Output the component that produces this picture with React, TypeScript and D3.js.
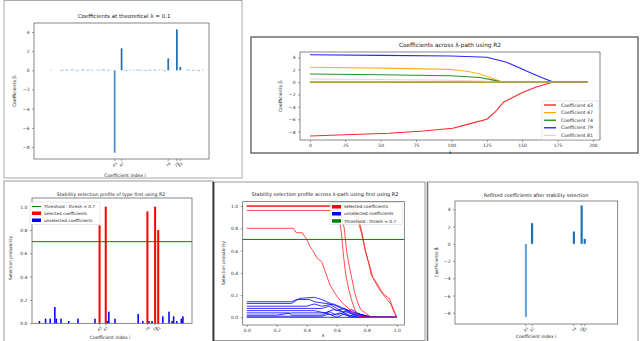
import React, { useEffect, useRef } from "react";
import * as d3 from "d3";

// selected coefficients (shared by the bar panels)
const selIdx = [43, 47, 74, 79, 81];
const selLabels = ["43", "47", "74", "79", "81"];

// panel 1: coefficients at theoretical lambda
const coefTheory = [-8.6, 2.3, 1.25, 4.27, 0.35];
const smallIdx = [6, 12, 13, 15, 16, 18, 19, 21, 22, 24, 25, 27, 28, 30, 33, 34, 36, 37, 39, 40, 49, 50, 52, 54, 56, 57, 58, 60, 61, 63, 64, 66, 67, 69, 71, 72, 85, 86, 88, 89, 91, 92, 94];
const smallVal = [0.06, -0.08, 0.07, 0.09, -0.06, 0.08, 0.07, -0.09, 0.06, 0.08, 0.09, -0.07, 0.06, 0.08, 0.07, -0.06, 0.09, 0.08, -0.07, 0.06, 0.08, -0.09, 0.07, 0.06, 0.08, -0.07, 0.09, 0.06, -0.08, 0.07, 0.06, 0.09, -0.06, 0.08, 0.07, -0.08, 0.06, 0.09, -0.07, 0.08, 0.06, -0.09, 0.07];

// panel 2: coefficients along the lambda path
const pathNames = ["Coefficient 43", "Coefficient 47", "Coefficient 74", "Coefficient 79", "Coefficient 81"];
const path43 = [[0, -8.7], [25, -8.5], [56, -8.25], [80, -7.9], [101, -7.45], [110, -6.9], [125, -6.0], [131, -4.8], [137, -3.2], [144, -2.4], [151, -1.6], [160, -0.8], [172, 0], [196, 0]];
const path47 = [[0, 2.38], [50, 2.25], [99, 2.05], [112, 1.7], [120, 1.3], [128, 0.7], [136, 0], [196, 0]];
const path74 = [[0, 1.3], [50, 1.18], [99, 1.02], [112, 0.85], [120, 0.75], [128, 0.4], [136, 0], [196, 0]];
const path79 = [[0, 4.4], [50, 4.3], [100, 4.2], [125, 4.0], [139, 3.2], [148, 2.3], [157, 1.4], [165, 0.6], [172, 0], [196, 0]];
const path81 = [[0, 0.5], [50, 0.42], [100, 0.3], [120, 0.15], [134, 0], [196, 0]];
const pathOther = [[0, 0], [196, 0]];
const pathTicks = [0, 25, 50, 75, 100, 125, 150, 175, 200];

// panel 3: stability profile at one lambda
const selProb = [0.84, 1.0, 0.96, 1.0, 0.8];
const unselIdx = [4, 8, 11, 14, 15, 18, 23, 29, 40, 48, 49, 53, 68, 71, 75, 77, 84, 88, 90, 91, 93, 96, 97];
const unselProb = [0.02, 0.04, 0.04, 0.14, 0.04, 0.04, 0.02, 0.04, 0.04, 0.02, 0.1, 0.04, 0.08, 0.02, 0.02, 0.02, 0.06, 0.1, 0.02, 0.06, 0.02, 0.04, 0.06];
const thresh = 0.7;

// panel 4: stability profile across lambda path
const redPaths = [
  [[0, 1.0], [0.6, 1.0], [0.625, 0.82], [0.635, 0.7], [0.645, 0.55], [0.66, 0.38], [0.68, 0.25], [0.7, 0.15], [0.72, 0.07], [0.74, 0.02], [0.76, 0], [1.0, 0]],
  [[0, 0.96], [0.62, 0.96], [0.65, 0.8], [0.665, 0.6], [0.68, 0.48], [0.7, 0.35], [0.72, 0.22], [0.74, 0.13], [0.76, 0.07], [0.8, 0.03], [0.83, 0], [1.0, 0]],
  [[0, 0.8], [0.31, 0.8], [0.33, 0.76], [0.37, 0.76], [0.4, 0.7], [0.42, 0.64], [0.44, 0.6], [0.47, 0.53], [0.5, 0.5], [0.52, 0.42], [0.555, 0.29], [0.6, 0.19], [0.64, 0.125], [0.69, 0.065], [0.73, 0.02], [0.8, 0], [1.0, 0]],
  [[0, 1.0], [0.72, 1.0], [0.75, 0.86], [0.77, 0.75], [0.79, 0.6], [0.81, 0.5], [0.83, 0.38], [0.855, 0.32], [0.88, 0.26], [0.9, 0.22], [0.93, 0.17], [0.96, 0.12], [0.98, 0.05], [1.0, 0]],
  [[0, 1.0], [0.7, 1.0], [0.74, 0.88], [0.76, 0.78], [0.78, 0.66], [0.8, 0.55], [0.82, 0.46], [0.84, 0.36], [0.87, 0.3], [0.9, 0.23], [0.92, 0.2], [0.95, 0.17], [0.97, 0.1], [1.0, 0]],
];
const bluePaths = [
  [[0, 0.14], [0.3, 0.14], [0.33, 0.16], [0.42, 0.16], [0.45, 0.14], [0.55, 0.12], [0.6, 0.08], [0.65, 0.04], [0.7, 0.01], [0.75, 0], [1.0, 0]],
  [[0, 0.125], [0.3, 0.125], [0.35, 0.17], [0.45, 0.18], [0.5, 0.16], [0.55, 0.13], [0.6, 0.1], [0.65, 0.07], [0.72, 0.02], [0.78, 0], [1.0, 0]],
  [[0, 0.1], [0.4, 0.1], [0.45, 0.12], [0.5, 0.1], [0.58, 0.12], [0.63, 0.09], [0.68, 0.06], [0.75, 0.03], [0.82, 0], [1.0, 0]],
  [[0, 0.08], [0.35, 0.08], [0.5, 0.08], [0.55, 0.1], [0.6, 0.06], [0.65, 0.08], [0.7, 0.04], [0.78, 0.02], [0.85, 0], [1.0, 0]],
  [[0, 0.06], [0.45, 0.06], [0.52, 0.04], [0.58, 0.07], [0.64, 0.05], [0.7, 0.07], [0.75, 0.03], [0.8, 0.01], [0.88, 0], [1.0, 0]],
  [[0, 0.04], [0.28, 0.04], [0.3, 0.02], [0.5, 0.02], [0.55, 0.05], [0.6, 0.02], [0.66, 0.05], [0.72, 0.02], [0.8, 0], [1.0, 0]],
  [[0, 0.02], [0.2, 0.02], [0.3, 0.04], [0.52, 0.04], [0.57, 0.02], [0.62, 0.04], [0.68, 0.01], [0.74, 0.03], [0.8, 0], [1.0, 0]],
  [[0, 0.01], [0.5, 0.01], [0.55, 0.03], [0.6, 0], [0.65, 0.03], [0.7, 0], [0.76, 0.02], [0.82, 0], [1.0, 0]],
  [[0, 0], [1.0, 0]],
];
const probTicks = [0, 0.2, 0.4, 0.6, 0.8, 1.0];

// panel 5: refitted coefficients
const coefRefit = [-8.5, 2.4, 1.43, 4.45, 0.58];

const coefTicks = [-8, -6, -4, -2, 0, 2, 4];

const FONT = "DejaVu Sans, sans-serif";
const pathColors = ["#ff0000", "#ffa500", "#008000", "#0000ff", "#ffc0cb"];

function styleAxis(g: any, fs = 4.5) {
  g.select(".domain").remove();
  g.selectAll(".tick line").attr("stroke", "#444").attr("stroke-width", 0.5);
  g.selectAll(".tick text").attr("fill", "#333").style("font-size", fs + "px").style("font-family", FONT);
}

function spines(svg: any, x: any, y: any) {
  const [x0, x1] = x.range();
  const [y0, y1] = y.range();
  svg.append("rect")
    .attr("x", x0).attr("y", Math.min(y0, y1))
    .attr("width", x1 - x0).attr("height", Math.abs(y0 - y1))
    .attr("fill", "none").attr("stroke", "#555").attr("stroke-width", 0.7);
}

function label(svg: any, txt: string, x: number, y: number, fs: number, rot = false) {
  svg.append("text")
    .attr("transform", `translate(${x},${y})` + (rot ? " rotate(-90)" : ""))
    .attr("text-anchor", "middle")
    .style("font-family", FONT).style("font-size", fs + "px").attr("fill", "#222")
    .text(txt);
}

function idxTicks(svg: any, x: any, y0: number) {
  selIdx.forEach((d, i) => {
    svg.append("line").attr("x1", x(d)).attr("x2", x(d)).attr("y1", y0).attr("y2", y0 + 2)
      .attr("stroke", "#444").attr("stroke-width", 0.5);
    svg.append("text")
      .attr("transform", `translate(${x(d) + 1},${y0 + 6.5}) rotate(-45)`)
      .attr("text-anchor", "middle")
      .style("font-family", FONT).style("font-size", "3.7px").attr("fill", "#333")
      .text(selLabels[i]);
  });
}

const App = () => {
  const ref = useRef<SVGSVGElement>(null);

  useEffect(() => {
    const svg = d3.select(ref.current);
    svg.selectAll("*").remove();
    svg.append("rect").attr("width", 640).attr("height", 341).attr("fill", "#fff");

    // panel frames
    svg.append("rect").attr("x", 4).attr("y", 0.5).attr("width", 238).attr("height", 177.5)
      .attr("fill", "none").attr("stroke", "#aaa").attr("stroke-width", 1);
    svg.append("rect").attr("x", 251).attr("y", 37).attr("width", 387).attr("height", 116)
      .attr("fill", "none").attr("stroke", "#666").attr("stroke-width", 1.4);
    svg.append("rect").attr("x", 4).attr("y", 181).attr("width", 209).attr("height", 162)
      .attr("fill", "none").attr("stroke", "#999").attr("stroke-width", 1);
    svg.append("rect").attr("x", 213.5).attr("y", 182).attr("width", 211.5).attr("height", 158.5)
      .attr("fill", "none").attr("stroke", "#999").attr("stroke-width", 1);
    svg.append("line").attr("x1", 213.5).attr("x2", 213.5).attr("y1", 182).attr("y2", 341)
      .attr("stroke", "#333").attr("stroke-width", 1.8);
    svg.append("rect").attr("x", 427.5).attr("y", 182).attr("width", 210.5).attr("height", 162)
      .attr("fill", "none").attr("stroke", "#999").attr("stroke-width", 1);
    svg.append("line").attr("x1", 427.5).attr("x2", 427.5).attr("y1", 182).attr("y2", 341)
      .attr("stroke", "#777").attr("stroke-width", 1.6);

    // ---------- panel 1 ----------
    const x1 = d3.scaleLinear().domain([-3.7, 97.6]).range([34, 209]);
    const y1 = d3.scaleLinear().domain([-9.25, 4.94]).range([159, 23]);
    svg.append("g").selectAll("rect").data(smallIdx).enter().append("rect")
      .attr("x", (d) => x1(d - 0.45))
      .attr("width", x1(0.9) - x1(0))
      .attr("y", (d, i) => y1(Math.max(0, smallVal[i])))
      .attr("height", (d, i) => Math.abs(y1(smallVal[i]) - y1(0)))
      .attr("fill", "#6aa6dc");
    svg.append("g").selectAll("rect").data(selIdx).enter().append("rect")
      .attr("x", (d) => x1(d - 0.5))
      .attr("width", x1(1) - x1(0))
      .attr("y", (d, i) => y1(Math.max(0, coefTheory[i])))
      .attr("height", (d, i) => Math.abs(y1(coefTheory[i]) - y1(0)))
      .attr("fill", (d, i) => (coefTheory[i] < 0 ? "#3f8fd0" : "#1f6fb4"));
    spines(svg, x1, y1);
    svg.append("g").attr("transform", "translate(34,0)")
      .call(d3.axisLeft(y1).tickValues(coefTicks).tickSize(2).tickPadding(2.5).tickFormat(d3.format("d")))
      .call(styleAxis);
    idxTicks(svg, x1, 159);
    label(svg, "Coefficients at theoretical λ = 0.1", 124, 18, 5.5);
    label(svg, "Coefficients β̂ᵢ", 16, 91, 4.6, true);
    label(svg, "Coefficient index i", 125, 177, 4.6);

    // ---------- panel 2 ----------
    const x2 = d3.scaleLinear().domain([-7, 205]).range([300, 600]);
    const y2 = d3.scaleLinear().domain([-9.34, 4.85]).range([140, 52]);
    const line2 = d3.line<number[]>().x((d) => x2(d[0])).y((d) => y2(d[1]));
    const paths2 = [path43, path47, path74, path79, path81];
    svg.append("path").datum(pathOther).attr("d", line2 as any)
      .attr("fill", "none").attr("stroke", "#b8b422").attr("stroke-width", 1.8);
    paths2.forEach((p, i) => {
      svg.append("path").datum(p).attr("d", line2 as any)
        .attr("fill", "none").attr("stroke", pathColors[i]).attr("stroke-width", 1.1)
        .attr("stroke-opacity", 0.85);
    });
    svg.append("path").datum(pathOther).attr("d", line2 as any)
      .attr("fill", "none").attr("stroke", "#a9a630").attr("stroke-width", 1.2);
    spines(svg, x2, y2);
    svg.append("g").attr("transform", "translate(300,0)")
      .call(d3.axisLeft(y2).tickValues(coefTicks).tickSize(2).tickPadding(2.5).tickFormat(d3.format("d")))
      .call(styleAxis);
    svg.append("g").attr("transform", "translate(0,140)")
      .call(d3.axisBottom(x2).tickValues(pathTicks).tickSize(2).tickPadding(2).tickFormat(d3.format("d")))
      .call(styleAxis);
    label(svg, "Coefficients across λ-path using R2", 450, 47, 5.8);
    label(svg, "Coefficients β̂ᵢ", 282, 96, 4.6, true);
    label(svg, "λ", 450, 154, 4.6);
    // legend
    const lg2 = svg.append("g");
    lg2.append("rect").attr("x", 542).attr("y", 101).attr("width", 57).attr("height", 38.5)
      .attr("fill", "#fff").attr("fill-opacity", 0.85).attr("stroke", "#ccc").attr("stroke-width", 0.5).attr("rx", 1);
    pathNames.forEach((n, i) => {
      const yy = 105 + i * 7.6;
      lg2.append("line").attr("x1", 544).attr("x2", 556).attr("y1", yy).attr("y2", yy)
        .attr("stroke", pathColors[i]).attr("stroke-width", 1.2);
      lg2.append("text").attr("x", 561).attr("y", yy + 1.6)
        .style("font-family", FONT).style("font-size", "4.6px").attr("fill", "#222").text(n);
    });

    // ---------- panel 3 ----------
    const x3 = d3.scaleLinear().domain([-0.8, 102.9]).range([32, 192]);
    const y3 = d3.scaleLinear().domain([0, 1.0745]).range([323.3, 198]);
    svg.append("g").selectAll("rect").data(unselIdx).enter().append("rect")
      .attr("x", (d) => x3(d - 0.5))
      .attr("width", x3(1) - x3(0))
      .attr("y", (d, i) => y3(unselProb[i]))
      .attr("height", (d, i) => y3(0) - y3(unselProb[i]))
      .attr("fill", "#0000ff");
    svg.append("g").selectAll("rect").data(selIdx).enter().append("rect")
      .attr("x", (d) => x3(d - 0.65))
      .attr("width", x3(1.3) - x3(0))
      .attr("y", (d, i) => y3(selProb[i]))
      .attr("height", (d, i) => y3(0) - y3(selProb[i]))
      .attr("fill", "#ff0000");
    svg.append("line").attr("x1", 32).attr("x2", 192).attr("y1", y3(thresh)).attr("y2", y3(thresh))
      .attr("stroke", "#008000").attr("stroke-width", 1);
    spines(svg, x3, y3);
    svg.append("g").attr("transform", "translate(32,0)")
      .call(d3.axisLeft(y3).tickValues(probTicks).tickSize(2).tickPadding(2.5).tickFormat(d3.format(".1f")))
      .call(styleAxis);
    idxTicks(svg, x3, 323.3);
    label(svg, "Stability selection profile of type first using R2", 111, 196, 4.7);
    label(svg, "Selection probability", 12, 258, 4.3, true);
    label(svg, "Coefficient index i", 110, 339, 4.5);
    const lg3 = svg.append("g");
    lg3.append("rect").attr("x", 30).attr("y", 202).attr("width", 70).attr("height", 22.5)
      .attr("fill", "#fff").attr("fill-opacity", 0.85).attr("stroke", "#ccc").attr("stroke-width", 0.5).attr("rx", 1);
    lg3.append("line").attr("x1", 32).attr("x2", 41).attr("y1", 206.5).attr("y2", 206.5)
      .attr("stroke", "#008000").attr("stroke-width", 1);
    lg3.append("rect").attr("x", 32).attr("y", 211.5).attr("width", 9).attr("height", 3.5).attr("fill", "#ff0000");
    lg3.append("rect").attr("x", 32).attr("y", 218.5).attr("width", 9).attr("height", 3.5).attr("fill", "#0000ff");
    ["Threshold : thresh = 0.7", "selected coefficients", "unselected coefficients"].forEach((t, i) => {
      lg3.append("text").attr("x", 44).attr("y", 208 + i * 7)
        .style("font-family", FONT).style("font-size", "4.2px").attr("fill", "#222").text(t);
    });

    // ---------- panel 4 ----------
    const x4 = d3.scaleLinear().domain([-0.027, 1.05]).range([242.7, 404.3]);
    const y4 = d3.scaleLinear().domain([-0.069, 1.039]).range([325, 201.7]);
    const line4 = d3.line<number[]>().x((d) => x4(d[0])).y((d) => y4(d[1]));
    bluePaths.forEach((p) => {
      svg.append("path").datum(p).attr("d", line4 as any)
        .attr("fill", "none").attr("stroke", "#0000ff").attr("stroke-width", 0.8);
    });
    redPaths.forEach((p) => {
      svg.append("path").datum(p).attr("d", line4 as any)
        .attr("fill", "none").attr("stroke", "#ff2020").attr("stroke-width", 0.8);
    });
    svg.append("line").attr("x1", 242.7).attr("x2", 404.3).attr("y1", y4(thresh)).attr("y2", y4(thresh))
      .attr("stroke", "#008000").attr("stroke-width", 1);
    spines(svg, x4, y4);
    svg.append("g").attr("transform", "translate(242.7,0)")
      .call(d3.axisLeft(y4).tickValues(probTicks).tickSize(2).tickPadding(2.5).tickFormat(d3.format(".1f")))
      .call(styleAxis);
    svg.append("g").attr("transform", "translate(0,325)")
      .call(d3.axisBottom(x4).tickValues(probTicks).tickSize(2).tickPadding(2).tickFormat(d3.format(".1f")))
      .call(styleAxis);
    label(svg, "Stability selection profile across λ-path using first using R2", 325, 196, 5);
    label(svg, "Selection probability", 225, 263, 4.3, true);
    label(svg, "λ", 323, 337, 4.6);
    const lg4 = svg.append("g");
    lg4.append("rect").attr("x", 330).attr("y", 202.5).attr("width", 72).attr("height", 22)
      .attr("fill", "#fff").attr("fill-opacity", 0.85).attr("stroke", "#ccc").attr("stroke-width", 0.5).attr("rx", 1);
    lg4.append("rect").attr("x", 332).attr("y", 205).attr("width", 9).attr("height", 3.5).attr("fill", "#ff0000");
    lg4.append("rect").attr("x", 332).attr("y", 212).attr("width", 9).attr("height", 3.5).attr("fill", "#0000ff");
    lg4.append("rect").attr("x", 332).attr("y", 219.2).attr("width", 9).attr("height", 3.5).attr("fill", "#008000");
    ["selected coefficients", "unselected coefficients", "Threshold : thresh = 0.7"].forEach((t, i) => {
      lg4.append("text").attr("x", 344).attr("y", 208.3 + i * 7.1)
        .style("font-family", FONT).style("font-size", "4.3px").attr("fill", "#222").text(t);
    });

    // ---------- panel 5 ----------
    const x5 = d3.scaleLinear().domain([-2.8, 102.3]).range([455, 617.7]);
    const y5 = d3.scaleLinear().domain([-9.3, 4.97]).range([324, 201]);
    svg.append("g").selectAll("rect").data(selIdx).enter().append("rect")
      .attr("x", (d) => x5(d - 0.7))
      .attr("width", x5(1.4) - x5(0))
      .attr("y", (d, i) => y5(Math.max(0, coefRefit[i])))
      .attr("height", (d, i) => Math.abs(y5(coefRefit[i]) - y5(0)))
      .attr("fill", (d, i) => (coefRefit[i] < 0 ? "#6aa6dc" : "#1f6fb4"));
    spines(svg, x5, y5);
    svg.append("g").attr("transform", "translate(455,0)")
      .call(d3.axisLeft(y5).tickValues(coefTicks).tickSize(2).tickPadding(2.5).tickFormat(d3.format("d")))
      .call(styleAxis);
    idxTicks(svg, x5, 324);
    label(svg, "Refitted coefficients after stability selection", 536, 197, 4.8);
    label(svg, "Coefficients β̂ᵢ", 438, 262, 4.4, true);
    label(svg, "Coefficient index i", 536, 338, 4.5);
  }, []);

  return (
    <div>
      <svg ref={ref} width={640} height={341} style={{ position: "absolute", left: 0, top: 0 }}></svg>
    </div>
  );
};

export default App;
